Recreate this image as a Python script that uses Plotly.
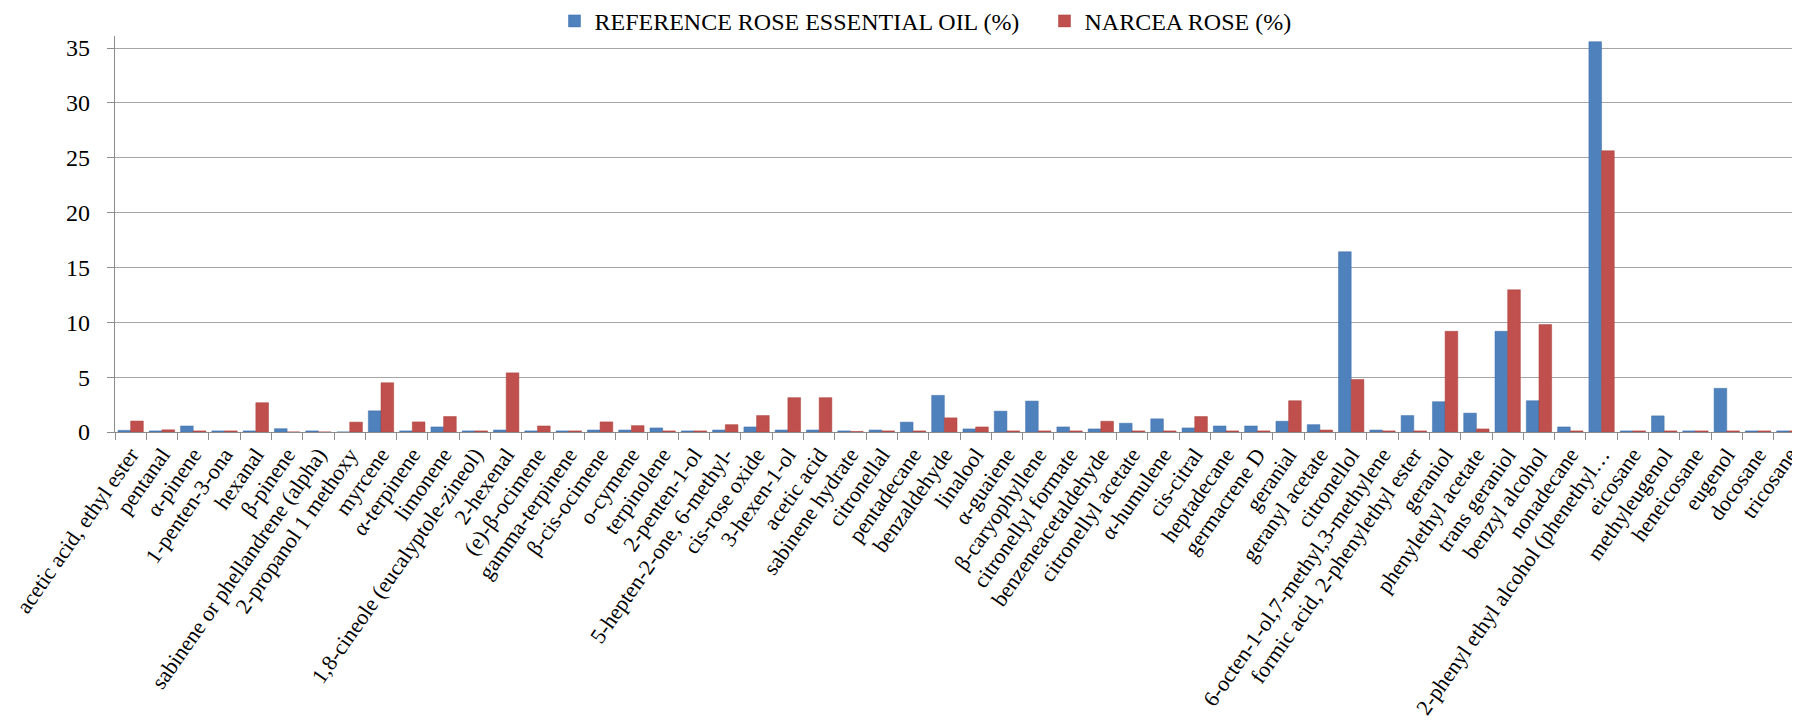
import plotly.graph_objects as go

categories = [
    "acetic acid, ethyl ester", "pentanal", "α-pinene", "1-penten-3-ona", "hexanal",
    "β-pinene", "sabinene or phellandrene (alpha)", "2-propanol 1 methoxy", "myrcene",
    "α-terpinene", "limonene", "1,8-cineole (eucalyptole-zineol)", "2-hexenal",
    "(e)-β-ocimene", "gamma-terpinene", "β-cis-ocimene", "o-cymene", "terpinolene",
    "2-penten-1-ol", "5-hepten-2-one, 6-methyl-", "cis-rose oxide", "3-hexen-1-ol",
    "acetic acid", "sabinene hydrate", "citronellal", "pentadecane", "benzaldehyde",
    "linalool", "α-guaiene", "β-caryophyllene", "citronellyl formate",
    "benzeneacetaldehyde", "citronellyl acetate", "α-humulene", "cis-citral",
    "heptadecane", "germacrene D", "geranial", "geranyl acetate", "citronellol",
    "6-octen-1-ol,7-methyl,3-methylene", "formic acid, 2-phenylethyl ester", "geraniol",
    "phenylethyl acetate", "trans geraniol", "benzyl alcohol", "nonadecane",
    "2-phenyl ethyl alcohol (phenethyl…", "eicosane", "methyleugenol", "heneicosane",
    "eugenol", "docosane", "tricosane",
]

reference_oil = [
    0.15, 0.1, 0.55, 0.1, 0.1, 0.3, 0.1, 0.0, 1.93, 0.1,
    0.46, 0.1, 0.18, 0.1, 0.1, 0.18, 0.18, 0.37, 0.1, 0.18,
    0.46, 0.18, 0.18, 0.1, 0.18, 0.9, 3.34, 0.28, 1.9, 2.82,
    0.46, 0.28, 0.8, 1.2, 0.37, 0.55, 0.55, 0.98, 0.67, 16.43,
    0.18, 1.5, 2.76, 1.72, 9.18, 2.85, 0.46, 35.58, 0.1, 1.47,
    0.1, 3.98, 0.1, 0.1,
]

narcea_rose = [
    1.0, 0.2, 0.1, 0.1, 2.67, 0.0, 0.0, 0.9, 4.49, 0.92,
    1.41, 0.1, 5.39, 0.55, 0.1, 0.92, 0.58, 0.1, 0.1, 0.67,
    1.5, 3.13, 3.13, 0.05, 0.1, 0.1, 1.29, 0.46, 0.1, 0.1,
    0.1, 0.98, 0.1, 0.1, 1.41, 0.1, 0.1, 2.85, 0.18, 4.79,
    0.1, 0.1, 9.18, 0.28, 12.96, 9.79, 0.1, 25.64, 0.1, 0.1,
    0.1, 0.1, 0.1, 0.1,
]

y_ticks = [0, 5, 10, 15, 20, 25, 30, 35]

FONT = "Liberation Serif, Times New Roman, serif"

fig = go.Figure()
fig.add_trace(go.Bar(
    x=categories, y=reference_oil, name="REFERENCE ROSE ESSENTIAL OIL (%)",
    marker=dict(color="#4F81BD", line=dict(color="#3f6fa8", width=0.5)),
))
fig.add_trace(go.Bar(
    x=categories, y=narcea_rose, name="NARCEA ROSE (%)",
    marker=dict(color="#C0504D", line=dict(color="#a8403d", width=0.5)),
))

fig.update_layout(
    width=1800, height=724,
    margin=dict(l=107, r=3, t=28, b=300, pad=0, autoexpand=False),
    paper_bgcolor="white", plot_bgcolor="white",
    barmode="group", bargap=0.19, bargroupgap=0.0,
    font=dict(family=FONT, size=23, color="#000000"),
    legend=dict(
        orientation="h", x=0.55, xanchor="center", y=1.094, yanchor="top",
        font=dict(family=FONT, size=24, color="#000000"),
        itemwidth=30, traceorder="normal", bgcolor="rgba(0,0,0,0)",
        entrywidth=445, entrywidthmode="pixels",
    ),
    showlegend=True,
)

fig.update_xaxes(
    type="category", tickangle=-55, tickson="boundaries",
    ticks="outside", ticklen=7, tickcolor="#8c8c8c", tickwidth=1.3,
    showline=True, linecolor="#8c8c8c", linewidth=1.3,
    showgrid=False, tickfont=dict(family=FONT, size=22, color="#000000"),
    automargin=False,
)
fig.update_yaxes(
    range=[0, 36.1], tickvals=y_ticks, ticktext=[str(v) for v in y_ticks],
    ticks="outside", ticklen=7, tickcolor="#8c8c8c", tickwidth=1.3,
    showline=True, linecolor="#8c8c8c", linewidth=1.3,
    showgrid=True, gridcolor="#a6a6a6", gridwidth=1.3, zeroline=False,
    tickfont=dict(family=FONT, size=24, color="#000000"),
    ticklabelstandoff=12, automargin=False,
)

fig.write_html("out.html")
